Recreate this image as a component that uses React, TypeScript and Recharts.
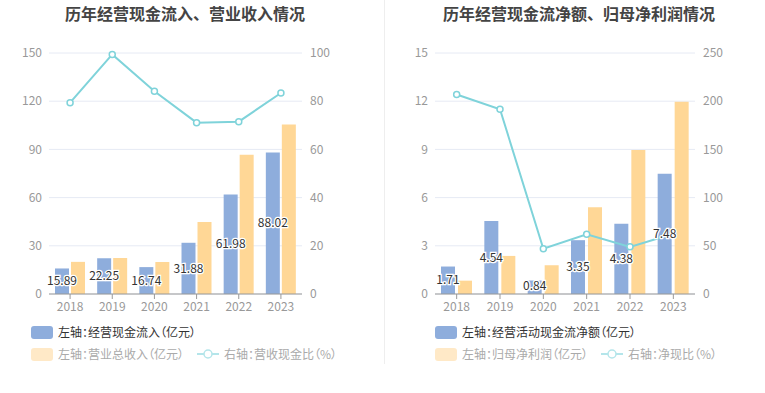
import React from "react";
import { Bar, CartesianGrid, ComposedChart, LabelList, Line, XAxis, YAxis } from "recharts";

const years = ["2018", "2019", "2020", "2021", "2022", "2023"];

// left chart
const cashInflow = [15.89, 22.25, 16.74, 31.88, 61.98, 88.02];
const revenue = [20.0, 22.4, 19.9, 44.8, 86.6, 105.5];
const cashRatio = [79.4, 99.4, 84.1, 71.1, 71.5, 83.4];
const leftTicksA = [0, 30, 60, 90, 120, 150];
const rightTicksA = [0, 20, 40, 60, 80, 100];

// right chart
const netCashFlow = [1.71, 4.54, 0.84, 3.35, 4.38, 7.48];
const netProfit = [0.83, 2.37, 1.79, 5.4, 8.96, 11.97];
const netCashRatio = [207, 191.6, 47.0, 62.0, 48.9, 62.5];
const leftTicksB = [0, 3, 6, 9, 12, 15];
const rightTicksB = [0, 50, 100, 150, 200, 250];

const dataA = years.map((y, i) => ({ year: y, bar1: cashInflow[i], bar2: revenue[i], ratio: cashRatio[i] }));
const dataB = years.map((y, i) => ({ year: y, bar1: netCashFlow[i], bar2: netProfit[i], ratio: netCashRatio[i] }));

const BLUE = "#8eaddc";
const YELLOW = "#ffd796";
const CYAN = "#7fd3da";
const FONT = '"Noto Sans CJK SC", "Noto Sans", sans-serif';

const tickStyle = { fill: "#999", fontSize: 12, fontFamily: FONT };

const renderLabel = (props: any) => {
    const { x, y, width, height, value } = props;
    const bottom = Number(y) + Number(height);
    const cy = Math.min(Number(y) + Number(height) / 2, bottom - 8);
    return (
        <text
            x={Number(x) + Number(width) / 2}
            y={cy}
            dy=".35em"
            textAnchor="middle"
            fill="#333"
            stroke="#fff"
            strokeWidth={2.5}
            paintOrder="stroke"
            fontSize={12}
            fontFamily={FONT}
        >
            {Number(value).toFixed(2)}
        </text>
    );
};

type PanelProps = {
    data: any[];
    left: number;
    width: number;
    margin: { top: number; right: number; left: number; bottom: number };
    leftTicks: number[];
    rightTicks: number[];
    barGap: number;
};

function Panel({ data, left, width, margin, leftTicks, rightTicks, barGap }: PanelProps) {
    return (
        <div style={{ position: "absolute", left, top: 0 }}>
            <ComposedChart width={width} height={320} data={data} margin={margin} barGap={barGap}>
                <CartesianGrid vertical={false} stroke="#e6eaf4" yAxisId="l" />
                <XAxis
                    dataKey="year"
                    height={20}
                    tick={tickStyle}
                    tickSize={5}
                    tickMargin={3}
                    axisLine={{ stroke: "#999" }}
                    tickLine={{ stroke: "#999" }}
                />
                <YAxis
                    yAxisId="l"
                    width={40}
                    domain={[leftTicks[0], leftTicks[leftTicks.length - 1]]}
                    ticks={leftTicks}
                    tick={tickStyle}
                    axisLine={false}
                    tickLine={false}
                    tickSize={0}
                    tickMargin={7}
                />
                <YAxis
                    yAxisId="r"
                    orientation="right"
                    width={40}
                    domain={[rightTicks[0], rightTicks[rightTicks.length - 1]]}
                    ticks={rightTicks}
                    tick={tickStyle}
                    axisLine={false}
                    tickLine={false}
                    tickSize={0}
                    tickMargin={8}
                />
                <Bar yAxisId="l" dataKey="bar1" fill={BLUE} barSize={14} isAnimationActive={false}>
                    <LabelList dataKey="bar1" content={renderLabel} />
                </Bar>
                <Bar yAxisId="l" dataKey="bar2" fill={YELLOW} barSize={14} isAnimationActive={false} />
                <Line
                    yAxisId="r"
                    dataKey="ratio"
                    stroke={CYAN}
                    strokeWidth={2}
                    dot={{ r: 3, fill: "#fff", stroke: CYAN, strokeWidth: 1.5 }}
                    isAnimationActive={false}
                />
            </ComposedChart>
        </div>
    );
}

function Swatch({ color }: { color: string }) {
    return (
        <span
            style={{
                display: "inline-block",
                width: 22,
                height: 13,
                borderRadius: 3,
                background: color,
                marginRight: 5,
                verticalAlign: "middle",
            }}
        />
    );
}

function LineIcon() {
    return (
        <svg width={22} height={12} style={{ verticalAlign: "middle", marginRight: 5 }}>
            <line x1={0} y1={6} x2={22} y2={6} stroke="#b4e5ea" strokeWidth={2} />
            <circle cx={11} cy={6} r={4} fill="#fff" stroke="#b4e5ea" strokeWidth={1.5} />
        </svg>
    );
}

const legendText = {
    fontSize: 12,
    fontFamily: FONT,
    verticalAlign: "middle",
    fontFeatureSettings: '"palt"',
} as const;

function Legend({ left, lineLeft, first, second, third }: { left: number; lineLeft: number; first: string; second: string; third: string }) {
    return (
        <>
            <div style={{ position: "absolute", left, top: 323, whiteSpace: "nowrap", lineHeight: "16px" }}>
                <Swatch color={BLUE} />
                <span style={{ ...legendText, color: "#333" }}>{first}</span>
            </div>
            <div style={{ position: "absolute", left, top: 345, whiteSpace: "nowrap", lineHeight: "16px" }}>
                <Swatch color="#ffe9c7" />
                <span style={{ ...legendText, color: "#aaa" }}>{second}</span>
            </div>
            <div style={{ position: "absolute", left: lineLeft, top: 345, whiteSpace: "nowrap", lineHeight: "16px" }}>
                <LineIcon />
                <span style={{ ...legendText, color: "#aaa" }}>{third}</span>
            </div>
        </>
    );
}

const titleStyle = {
    position: "absolute",
    top: 3,
    transform: "translateX(-50%)",
    whiteSpace: "nowrap",
    fontSize: 16,
    fontWeight: "bold",
    color: "#444",
    fontFamily: FONT,
    lineHeight: "20px",
} as const;

export default function App() {
    return (
        <div style={{ position: "absolute", left: 0, top: 0, width: 765, height: 393, background: "#fff", overflow: "hidden" }}>
            <div style={{ ...titleStyle, left: 185 }}>历年经营现金流入、营业收入情况</div>
            <div style={{ ...titleStyle, left: 579 }}>历年经营现金流净额、归母净利润情况</div>
            <Panel
                data={dataA}
                left={0}
                width={383}
                margin={{ top: 53, right: 41, left: 9, bottom: 6 }}
                leftTicks={leftTicksA}
                rightTicks={rightTicksA}
                barGap={2}
            />
            <Panel
                data={dataB}
                left={384}
                width={381}
                margin={{ top: 53, right: 30, left: 11, bottom: 6 }}
                leftTicks={leftTicksB}
                rightTicks={rightTicksB}
                barGap={3}
            />
            <div style={{ position: "absolute", left: 384, top: 0, width: 1, height: 364, background: "#eee" }} />
            <Legend
                left={31}
                lineLeft={197}
                first="左轴：经营现金流入（亿元）"
                second="左轴：营业总收入（亿元）"
                third="右轴：营收现金比（%）"
            />
            <Legend
                left={435}
                lineLeft={601}
                first="左轴：经营活动现金流净额（亿元）"
                second="左轴：归母净利润（亿元）"
                third="右轴：净现比（%）"
            />
        </div>
    );
}
